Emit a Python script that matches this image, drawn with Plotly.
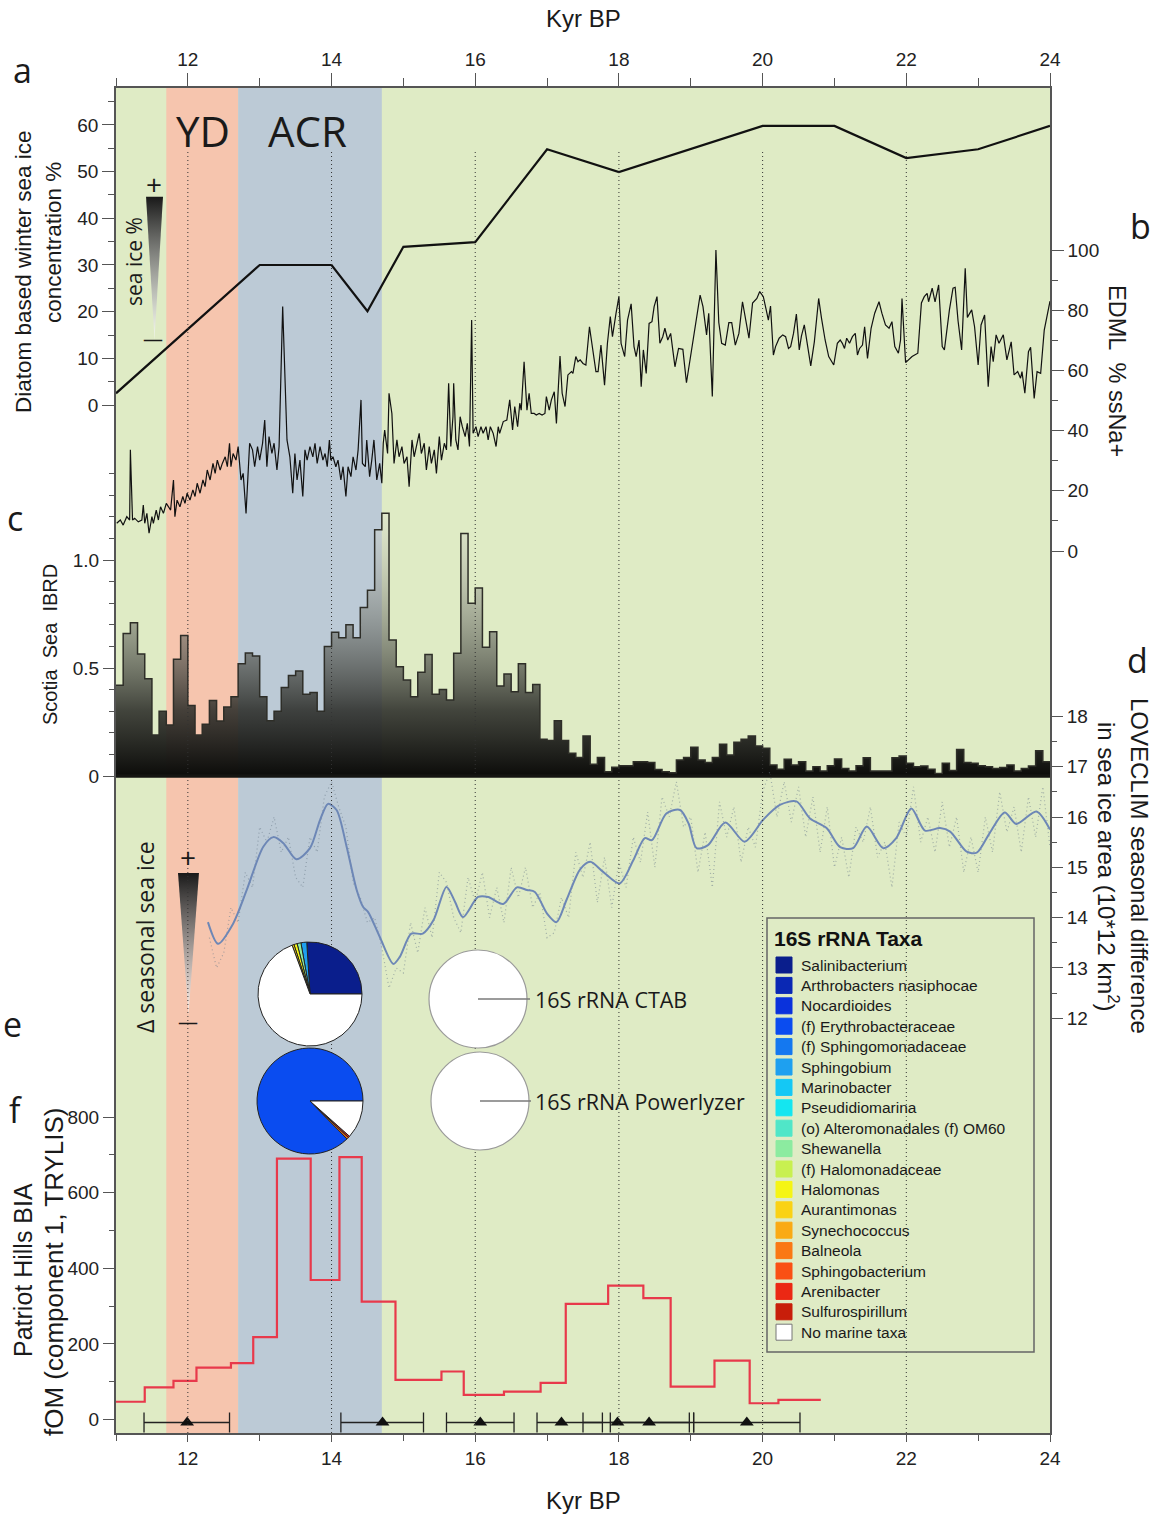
import plotly.graph_objects as go

# ---------------- DATA ----------------
x_major = [12, 14, 16, 18, 20, 22, 24]
x_minor = [11, 13, 15, 17, 19, 21, 23]
yd_band = [11.7, 12.7]
acr_band = [12.7, 14.7]
dotted_kyr = [12, 14, 16, 18, 20, 22]

# (a) diatom based winter sea ice concentration %
diatom_kyr = [11.0, 13.0, 14.0, 14.5, 15.0, 16.0, 17.0, 18.0, 20.0, 21.0, 22.0, 23.0, 24.0]
diatom_ice = [2.5, 30, 30, 20.1, 33.9, 34.9, 54.8, 49.9, 59.8, 59.8, 52.9, 54.8, 59.8]

# (b) EDML % ssNa+
edml = [
    (11.01, 9.2), (11.06, 10.3), (11.10, 8.6), (11.15, 11.4), (11.19, 10.3), (11.20, 33.6), (11.23, 10.3),
    (11.26, 10.9), (11.31, 9.7), (11.36, 10.3), (11.38, 15.3), (11.40, 9.2), (11.43, 12.5), (11.46, 5.9),
    (11.50, 11.4), (11.52, 9.2), (11.56, 13.6), (11.59, 10.3), (11.62, 14.7), (11.66, 12.5), (11.70, 15.8),
    (11.73, 14.7), (11.76, 13.6), (11.80, 23.6), (11.82, 11.4), (11.85, 16.9), (11.89, 14.7), (11.93, 18.1),
    (11.96, 15.8), (11.99, 19.2), (12.03, 16.9), (12.07, 20.3), (12.10, 18.1), (12.13, 22.5), (12.17, 19.2),
    (12.21, 23.6), (12.24, 21.4), (12.27, 26.9), (12.31, 23.6), (12.35, 29.1), (12.38, 25.8), (12.41, 30.2),
    (12.45, 26.9), (12.48, 29.1), (12.52, 31.3), (12.55, 28.0), (12.58, 35.8), (12.60, 28.0), (12.63, 32.4),
    (12.67, 30.2), (12.70, 34.7), (12.74, 23.6), (12.77, 25.8), (12.81, 12.5), (12.84, 29.1), (12.86, 35.8),
    (12.90, 33.6), (12.93, 28.0), (12.97, 34.7), (13.00, 30.2), (13.04, 35.8), (13.07, 43.5), (13.10, 28.0),
    (13.13, 38.0), (13.17, 32.4), (13.20, 35.8), (13.24, 26.9), (13.27, 34.7), (13.32, 81.2), (13.35, 54.6),
    (13.38, 36.9), (13.42, 31.3), (13.46, 19.2), (13.49, 32.4), (13.52, 23.6), (13.56, 30.2), (13.60, 18.1),
    (13.63, 33.6), (13.66, 30.2), (13.70, 34.7), (13.74, 31.3), (13.77, 35.8), (13.80, 29.1), (13.84, 34.7),
    (13.88, 30.2), (13.91, 32.4), (13.94, 28.0), (13.97, 36.9), (13.99, 30.2), (14.02, 31.3), (14.06, 28.0),
    (14.09, 30.2), (14.13, 23.6), (14.16, 28.0), (14.20, 18.1), (14.23, 28.0), (14.27, 24.7), (14.30, 31.3),
    (14.34, 26.9), (14.37, 33.6), (14.41, 50.2), (14.43, 29.1), (14.47, 28.0), (14.49, 36.9), (14.53, 24.7),
    (14.56, 30.2), (14.59, 36.9), (14.63, 23.6), (14.67, 29.1), (14.70, 22.5), (14.72, 35.8), (14.74, 40.2),
    (14.78, 32.4), (14.80, 52.4), (14.84, 45.7), (14.87, 29.1), (14.91, 36.9), (14.94, 31.3), (14.98, 34.7),
    (15.01, 29.1), (15.05, 31.3), (15.08, 21.4), (15.12, 36.9), (15.15, 31.3), (15.18, 34.7), (15.22, 39.1),
    (15.25, 32.4), (15.29, 35.8), (15.32, 26.9), (15.36, 34.7), (15.39, 29.1), (15.43, 33.6), (15.46, 25.8),
    (15.50, 38.0), (15.53, 30.2), (15.57, 35.8), (15.60, 33.6), (15.63, 55.7), (15.66, 34.7), (15.69, 44.6),
    (15.70, 55.7), (15.73, 36.9), (15.76, 33.6), (15.79, 44.6), (15.82, 41.3), (15.86, 38.0), (15.89, 42.4),
    (15.92, 34.7), (15.95, 76.7), (15.97, 39.1), (16.01, 41.3), (16.04, 38.0), (16.08, 41.3), (16.11, 39.1),
    (16.15, 41.3), (16.18, 36.9), (16.21, 41.3), (16.25, 39.1), (16.29, 34.7), (16.32, 41.3),
    (16.34, 39.1), (16.39, 43.0), (16.44, 43.5), (16.48, 50.2), (16.52, 40.2), (16.55, 48.0), (16.59, 41.3),
    (16.62, 49.1), (16.64, 46.8), (16.68, 62.9), (16.72, 46.8), (16.75, 52.4), (16.78, 45.7), (16.82, 45.7),
    (16.85, 45.2), (16.89, 45.7), (16.93, 45.2), (16.97, 45.7), (16.99, 51.3), (17.03, 46.8), (17.06, 50.2),
    (17.10, 52.9), (17.13, 42.4), (17.18, 64.8), (17.21, 52.4), (17.25, 48.0), (17.29, 58.5), (17.34, 59.6),
    (17.36, 59.0), (17.40, 64.6), (17.43, 62.9), (17.46, 63.5), (17.50, 62.3), (17.54, 61.8), (17.59, 74.5),
    (17.63, 67.9), (17.68, 59.6), (17.71, 59.6), (17.75, 68.4), (17.80, 55.1), (17.84, 69.0), (17.88, 77.9),
    (17.91, 71.2), (17.96, 79.0), (18.00, 84.5), (18.03, 69.0), (18.08, 64.6), (18.12, 76.7), (18.17, 82.1),
    (18.21, 67.9), (18.24, 64.6), (18.28, 70.1), (18.31, 54.6), (18.34, 66.8), (18.38, 59.0), (18.42, 75.6),
    (18.46, 76.2), (18.49, 81.2), (18.53, 84.5), (18.57, 69.0), (18.61, 71.2), (18.64, 74.0), (18.68, 70.1),
    (18.72, 72.3), (18.75, 66.8), (18.78, 61.2), (18.83, 67.3), (18.89, 67.0), (18.94, 55.9), (19.03, 70.1),
    (19.13, 85.0), (19.17, 81.2), (19.22, 71.8), (19.25, 79.0), (19.30, 51.3), (19.35, 100.0), (19.39, 75.9),
    (19.43, 69.0), (19.48, 68.4), (19.53, 75.9), (19.57, 75.9), (19.62, 68.4), (19.67, 72.3), (19.72, 82.8),
    (19.77, 76.7), (19.81, 70.7), (19.86, 82.4), (19.92, 83.9), (19.96, 86.2), (20.01, 84.5), (20.05, 80.1),
    (20.08, 76.7), (20.11, 81.4), (20.15, 65.1), (20.18, 67.9), (20.23, 70.7), (20.28, 71.8), (20.32, 71.2),
    (20.36, 67.3), (20.39, 67.9), (20.43, 72.3), (20.47, 78.7), (20.51, 66.8), (20.54, 71.4), (20.58, 75.1),
    (20.62, 69.0), (20.67, 61.5), (20.72, 69.5), (20.78, 83.9), (20.82, 77.3), (20.87, 70.1), (20.92, 64.6),
    (20.97, 62.3), (20.99, 61.8), (21.04, 69.0), (21.08, 70.1), (21.11, 69.0), (21.14, 67.3), (21.17, 70.7),
    (21.21, 69.0), (21.25, 71.2), (21.29, 72.3), (21.32, 65.1), (21.35, 67.3), (21.39, 68.4), (21.42, 74.5),
    (21.46, 64.0), (21.51, 74.0), (21.56, 79.0), (21.62, 82.8), (21.66, 79.0), (21.71, 75.1), (21.76, 74.0),
    (21.80, 76.2), (21.84, 67.9), (21.89, 65.7), (21.92, 70.1), (21.94, 83.9), (21.99, 62.6), (22.03, 63.5),
    (22.08, 64.6), (22.16, 65.7), (22.21, 82.4), (22.25, 84.5), (22.29, 85.6), (22.31, 82.8), (22.36, 87.3),
    (22.40, 82.8), (22.45, 88.4), (22.50, 67.9), (22.53, 66.8), (22.60, 80.1), (22.65, 87.3), (22.68, 87.6),
    (22.72, 76.5), (22.77, 66.8), (22.82, 93.9), (22.85, 77.6), (22.91, 80.1), (22.95, 74.5), (23.00, 61.8),
    (23.04, 75.1), (23.09, 78.4), (23.14, 54.6), (23.18, 67.9), (23.21, 62.9), (23.25, 71.8), (23.29, 69.0),
    (23.35, 71.8), (23.40, 63.5), (23.46, 69.5), (23.50, 58.5), (23.55, 59.6), (23.59, 57.4), (23.61, 59.6),
    (23.65, 52.4), (23.70, 66.2), (23.73, 67.7), (23.78, 50.7), (23.82, 59.6), (23.87, 59.0), (23.92, 73.4),
    (23.97, 80.1), (24.00, 83.0),
]
edml_kyr = [p[0] for p in edml]
edml_ssna = [p[1] for p in edml]

# (c) Scotia Sea IBRD, 0.1 kyr bins starting at 11.0
ibrd_bin_start = [round(11.0 + 0.1 * i, 1) for i in range(130)]
ibrd = [
    0.42, 0.66, 0.71, 0.565, 0.45, 0.19, 0.30, 0.236, 0.54, 0.65,
    0.326, 0.19, 0.24, 0.35, 0.255, 0.32, 0.367, 0.52, 0.57, 0.556,
    0.367, 0.256, 0.30, 0.41, 0.465, 0.486, 0.378, 0.386, 0.30, 0.60,
    0.665, 0.64, 0.70, 0.64, 0.78, 0.86, 1.14, 1.216, 0.63, 0.506,
    0.444, 0.367, 0.48, 0.563, 0.378, 0.40, 0.352, 0.568, 1.123, 0.80,
    0.87, 0.596, 0.668, 0.417, 0.472, 0.39, 0.52, 0.387, 0.424, 0.17,
    0.164, 0.256, 0.164, 0.105, 0.086, 0.185, 0.054, 0.086, 0.02, 0.04,
    0.048, 0.048, 0.066, 0.066, 0.063, 0.03, 0.02, 0.015, 0.074, 0.086,
    0.133, 0.074, 0.063, 0.086, 0.147, 0.097, 0.156, 0.17, 0.185, 0.139,
    0.128, 0.051, 0.031, 0.077, 0.051, 0.066, 0.023, 0.043, 0.023, 0.048,
    0.079, 0.035, 0.023, 0.048, 0.085, 0.023, 0.023, 0.023, 0.085, 0.093,
    0.059, 0.043, 0.046, 0.031, 0.012, 0.059, 0.025, 0.123, 0.063, 0.059,
    0.048, 0.043, 0.035, 0.039, 0.051, 0.023, 0.035, 0.046, 0.117, 0.066,
]

# (d) LOVECLIM seasonal difference in sea ice area (smoothed)
love_kyr = [12.28, 12.42, 12.63, 12.82, 13.05, 13.19, 13.33, 13.51, 13.70, 13.84, 13.95, 14.07, 14.21,
            14.35, 14.44, 14.51, 14.67, 14.86, 14.95, 15.11, 15.27, 15.42, 15.60, 15.72, 15.83, 16.04,
            16.18, 16.39, 16.58, 16.72, 16.83, 17.00, 17.13, 17.27, 17.46, 17.60, 17.78, 18.01, 18.20,
            18.36, 18.46, 18.66, 18.85, 18.97, 19.08, 19.24, 19.48, 19.75, 20.01, 20.24, 20.47, 20.66,
            20.89, 21.08, 21.26, 21.45, 21.68, 21.86, 22.07, 22.26, 22.47, 22.61, 22.84, 22.98, 23.16,
            23.37, 23.53, 23.81, 24.00]
love_smooth = [13.91, 13.48, 13.88, 14.55, 15.41, 15.60, 15.48, 15.16, 15.38, 15.94, 16.26, 16.14, 15.41,
               14.55, 14.21, 14.11, 13.62, 13.08, 13.22, 13.68, 13.68, 13.95, 14.61, 14.31, 14.01, 14.41,
               14.41, 14.27, 14.60, 14.55, 14.51, 14.08, 13.91, 14.35, 14.96, 15.11, 14.91, 14.68, 15.14,
               15.58, 15.54, 16.07, 16.14, 15.87, 15.38, 15.44, 15.89, 15.51, 15.95, 16.24, 16.31, 15.97,
               15.78, 15.40, 15.38, 15.81, 15.38, 15.58, 16.17, 15.73, 15.78, 15.71, 15.31, 15.29, 15.68,
               16.09, 15.86, 16.11, 15.75]
# (d) LOVECLIM unsmoothed (faint dotted series, read approximately)
love_raw = [
    (12.30, 13.6), (12.40, 13.0), (12.50, 13.3), (12.60, 14.2), (12.70, 13.9), (12.80, 14.9), (12.90, 14.6),
    (13.00, 15.8), (13.10, 15.5), (13.20, 16.0), (13.30, 15.3), (13.40, 15.6), (13.50, 14.8), (13.60, 14.6),
    (13.70, 15.6), (13.80, 15.3), (13.90, 16.4), (14.00, 16.7), (14.10, 16.2), (14.20, 15.8), (14.30, 14.7),
    (14.40, 14.4), (14.50, 13.9), (14.60, 14.0), (14.70, 13.4), (14.80, 12.6), (14.90, 13.0), (15.00, 12.9),
    (15.10, 13.9), (15.20, 13.3), (15.30, 14.2), (15.40, 13.6), (15.50, 14.9), (15.60, 14.7), (15.70, 14.0),
    (15.80, 13.7), (15.90, 14.8), (16.00, 14.3), (16.10, 14.9), (16.20, 14.0), (16.30, 14.6), (16.40, 13.9),
    (16.50, 15.0), (16.60, 14.4), (16.70, 15.0), (16.80, 14.2), (16.90, 14.5), (17.00, 13.6), (17.10, 13.7),
    (17.20, 14.4), (17.30, 14.0), (17.40, 15.3), (17.50, 14.8), (17.60, 15.5), (17.70, 14.3), (17.80, 15.2),
    (17.90, 14.2), (18.00, 15.1), (18.10, 14.6), (18.20, 15.6), (18.30, 15.1), (18.40, 16.1), (18.50, 15.0),
    (18.60, 16.4), (18.70, 16.0), (18.80, 16.7), (18.90, 15.8), (19.00, 16.0), (19.10, 14.9), (19.20, 15.7),
    (19.30, 14.6), (19.40, 16.3), (19.50, 15.6), (19.60, 16.2), (19.70, 15.1), (19.80, 15.8), (19.90, 15.4),
    (20.00, 16.5), (20.10, 16.9), (20.20, 16.0), (20.30, 16.7), (20.40, 15.9), (20.50, 16.6), (20.60, 15.6),
    (20.70, 16.4), (20.80, 15.3), (20.90, 16.2), (21.00, 15.0), (21.10, 15.6), (21.20, 14.8), (21.30, 15.8),
    (21.40, 15.5), (21.50, 16.2), (21.60, 15.2), (21.70, 15.5), (21.80, 14.6), (21.90, 15.9), (22.00, 15.6),
    (22.10, 16.6), (22.20, 15.5), (22.30, 16.0), (22.40, 15.3), (22.50, 16.3), (22.60, 15.4), (22.70, 16.0),
    (22.80, 14.9), (22.90, 15.6), (23.00, 14.9), (23.10, 16.0), (23.20, 15.3), (23.30, 16.5), (23.40, 15.7),
    (23.50, 16.2), (23.60, 15.3), (23.70, 16.4), (23.80, 15.6), (23.90, 16.6), (24.00, 15.4),
]
love_raw_kyr = [p[0] for p in love_raw]
love_raw_val = [p[1] for p in love_raw]

# (f) Patriot Hills BIA fOM (component 1, TRYLIS), step edges + values
fom_edges = [11.0, 11.40, 11.80, 12.12, 12.60, 12.91, 13.24, 13.71, 14.11, 14.42, 14.89, 15.53, 15.84,
             16.40, 16.91, 17.26, 17.85, 18.34, 18.72, 19.33, 19.82, 20.22, 20.81]
fom_values = [47, 85, 102, 137, 149, 218, 690, 369, 694, 312, 105, 127, 65, 74, 97, 306, 354, 321, 87,
              156, 43, 52]

# age control (kyr) with uncertainty
age_kyr = [11.99, 14.71, 16.07, 17.20, 17.98, 18.42, 19.78]
age_lo = [11.39, 14.13, 15.60, 16.86, 17.50, 17.88, 19.04]
age_hi = [12.58, 15.28, 16.54, 17.77, 18.98, 19.04, 20.52]
age_row = -8

# (e) 16S rRNA taxa
taxa = ["Salinibacterium", "Arthrobacters nasiphocae", "Nocardioides", "(f) Erythrobacteraceae",
        "(f) Sphingomonadaceae", "Sphingobium", "Marinobacter", "Pseudidiomarina",
        "(o) Alteromonadales (f) OM60", "Shewanella", "(f) Halomonadaceae", "Halomonas", "Aurantimonas",
        "Synechococcus", "Balneola", "Sphingobacterium", "Arenibacter", "Sulfurospirillum", "No marine taxa"]
taxa_colors = ["#0a1e8c", "#0a28b4", "#0a32dc", "#0a4cf0", "#1478f0", "#1ea0f0", "#14c8f5", "#14e6f0",
               "#50e6c8", "#8ceba0", "#c8f050", "#f5f514", "#fad214", "#faaa14", "#fa7814", "#fa5014",
               "#eb2814", "#c81e0a", "#ffffff"]
tcol = dict(zip(taxa, taxa_colors))

pie_a_labels = ["Salinibacterium", "Sphingobium", "Shewanella", "Halomonas", "Aurantimonas", "No marine taxa"]
pie_a_values = [26.0, 1.8, 1.2, 1.0, 0.6, 69.4]
pie_b_labels = ["(f) Erythrobacteraceae", "Balneola", "Arenibacter", "No marine taxa"]
pie_b_values = [87.3, 0.6, 0.5, 11.6]

# ---------------- GEOMETRY / STYLE ----------------
W, H = 1158, 1517
L, R, T, B = 116, 1050, 88, 1433


def PX(x):
    return (x - L) / (R - L)


def PY(y):
    return (B - y) / (B - T)


def yrange(v_ref, p_ref, ppu):
    return [v_ref + (p_ref - B) / ppu, v_ref + (p_ref - T) / ppu]


HELV = "Liberation Sans, Arial, sans-serif"
MYR = "Open Sans, sans-serif"
TXT = "#1a1a1a"
AX = "#555555"
GREEN = "#dfebc5"

fig = go.Figure()

# gradient triangle (sea ice %)
fig.add_trace(go.Scatter(x=[11.418, 11.654, 11.536, 11.418], y=[44.6, 44.6, 14.0, 44.6], mode="lines",
                         fill="toself", line=dict(width=0, color="rgba(0,0,0,0)"),
                         fillgradient=dict(type="vertical", colorscale=[[0, "rgba(255,255,255,0.7)"],
                                                                        [1, "rgba(25,25,25,1)"]]),
                         xaxis="x", yaxis="y", hoverinfo="skip", showlegend=False))
# (a)
fig.add_trace(go.Scatter(x=diatom_kyr, y=diatom_ice, mode="lines", line=dict(color="#111", width=2.2),
                         xaxis="x", yaxis="y", hoverinfo="skip", showlegend=False))
# top x axis carrier
fig.add_trace(go.Scatter(x=[11, 24], y=[-500, -500], mode="lines", line=dict(width=0), xaxis="x2", yaxis="y",
                         showlegend=False, hoverinfo="skip"))
# (b)
fig.add_trace(go.Scatter(x=edml_kyr, y=edml_ssna, mode="lines", line=dict(color="#111", width=1.2),
                         xaxis="x", yaxis="y2", hoverinfo="skip", showlegend=False))
# (c)
ibrd_x = ibrd_bin_start + [24.0]
ibrd_y = ibrd + [ibrd[-1]]
fig.add_trace(go.Scatter(x=ibrd_x, y=ibrd_y, mode="lines", line=dict(color="#2e2e28", width=1.5, shape="hv"),
                         fill="tozeroy",
                         fillgradient=dict(type="vertical", start=0, stop=1.22,
                                           colorscale=[[0, "rgba(12,12,10,1)"], [0.25, "rgba(45,46,42,0.88)"],
                                                       [0.5, "rgba(95,97,90,0.65)"],
                                                       [1, "rgba(225,228,215,0.35)"]]),
                         xaxis="x", yaxis="y3", hoverinfo="skip", showlegend=False))
# (d)
fig.add_trace(go.Scatter(x=[11.863, 12.155, 12.009, 11.863], y=[14.887, 14.887, 12.064, 14.887], mode="lines",
                         fill="toself", line=dict(width=0, color="rgba(0,0,0,0)"),
                         fillgradient=dict(type="vertical", colorscale=[[0, "rgba(255,255,255,0.7)"],
                                                                        [1, "rgba(25,25,25,1)"]]),
                         xaxis="x", yaxis="y4", hoverinfo="skip", showlegend=False))
fig.add_trace(go.Scatter(x=love_raw_kyr, y=love_raw_val, mode="lines",
                         line=dict(color="rgba(110,125,140,0.55)", width=1.2, dash="1px,3px"),
                         xaxis="x", yaxis="y4", hoverinfo="skip", showlegend=False))
fig.add_trace(go.Scatter(x=love_kyr, y=love_smooth, mode="lines",
                         line=dict(color="#6d87b6", width=2, shape="spline", smoothing=0.8),
                         xaxis="x", yaxis="y4", hoverinfo="skip", showlegend=False))
# (f)
fig.add_trace(go.Scatter(x=fom_edges, y=fom_values + [fom_values[-1]], mode="lines",
                         line=dict(color="#e8394b", width=2.2, shape="hv"),
                         xaxis="x", yaxis="y5", hoverinfo="skip", showlegend=False))
fig.add_trace(go.Scatter(x=age_kyr, y=[age_row] * len(age_kyr), mode="markers",
                         marker=dict(symbol="triangle-up", size=12, color="#111"),
                         error_x=dict(type="data", symmetric=False,
                                      array=[h - a for h, a in zip(age_hi, age_kyr)],
                                      arrayminus=[a - l for a, l in zip(age_kyr, age_lo)],
                                      width=10, thickness=1.3, color="#222"),
                         xaxis="x", yaxis="y5", hoverinfo="skip", showlegend=False))
# dotted guide lines
gx, gy = [], []
for k in dotted_kyr:
    gx += [k, k, None]
    gy += [0, PY(150), None]
fig.add_trace(go.Scatter(x=gx, y=gy, mode="lines", line=dict(color="#333", width=1, dash="1px,3px"),
                         xaxis="x", yaxis="y6", hoverinfo="skip", showlegend=False))


# pies (e): first slice starts at 3 o'clock, slices run counterclockwise
def pie_dom(cx, cy, r):
    return dict(x=[PX(cx - r), PX(cx + r)], y=[PY(cy + r), PY(cy - r)])


def pie_rot(vals):
    return 90 - 360.0 * vals[0] / sum(vals)


fig.add_trace(go.Pie(labels=pie_a_labels, values=pie_a_values, sort=False, direction="counterclockwise",
                     rotation=pie_rot(pie_a_values), textinfo="none", hoverinfo="skip", showlegend=False,
                     marker=dict(colors=[tcol[l] for l in pie_a_labels], line=dict(color="#222", width=1)),
                     domain=pie_dom(310, 994, 52)))
fig.add_trace(go.Pie(labels=pie_b_labels, values=pie_b_values, sort=False, direction="counterclockwise",
                     rotation=pie_rot(pie_b_values), textinfo="none", hoverinfo="skip", showlegend=False,
                     marker=dict(colors=[tcol[l] for l in pie_b_labels], line=dict(color="#222", width=1)),
                     domain=pie_dom(310, 1101, 53)))
for cy, cx in [(999, 478), (1101, 480)]:
    fig.add_trace(go.Pie(labels=["No marine taxa"], values=[100], sort=False, textinfo="none",
                         hoverinfo="skip", showlegend=False,
                         marker=dict(colors=["#ffffff"], line=dict(color="#9a9a9a", width=1.2)),
                         domain=pie_dom(cx, cy, 49)))

# ---------------- AXES ----------------
tickfont = dict(family=HELV, size=19, color="#222")


def yax(rng, vals, text=None, minor=None, side="left", overlay=True, showline=False, ticklen=12):
    d = dict(range=rng, tickmode="array", tickvals=vals, ticks="outside", ticklen=ticklen, tickwidth=1.2,
             tickcolor=AX, showgrid=False, zeroline=False, showline=showline, linecolor=AX, linewidth=1.5,
             tickfont=tickfont, side=side, fixedrange=True, anchor="x")
    if text is not None:
        d["ticktext"] = text
    if minor is not None:
        d["minor"] = dict(tickmode="array", tickvals=minor, ticks="outside", ticklen=6, tickwidth=1.2,
                          tickcolor=AX, showgrid=False)
    if overlay:
        d["overlaying"] = "y"
    else:
        d["domain"] = [0, 1]
    return d


xcommon = dict(range=[11, 24], tickmode="array", tickvals=x_major, ticks="outside", tickwidth=1.2,
               tickcolor=AX, showgrid=False, zeroline=False, showline=True, linecolor=AX, linewidth=1.5,
               tickfont=tickfont, fixedrange=True)

fig.update_layout(
    width=W, height=H, autosize=False,
    margin=dict(l=L, r=W - R, t=T, b=H - B, pad=0),
    paper_bgcolor="white", plot_bgcolor=GREEN, showlegend=False, hovermode=False,
    xaxis=dict(**xcommon, domain=[0, 1], anchor="y", ticklen=7,
               minor=dict(tickmode="array", tickvals=x_minor, ticks="outside", ticklen=6, tickwidth=1.2,
                          tickcolor=AX)),
    xaxis2=dict(**xcommon, overlaying="x", side="top", anchor="y", ticklen=13,
                minor=dict(tickmode="array", tickvals=x_minor, ticks="outside", ticklen=8, tickwidth=1.2,
                           tickcolor=AX)),
    yaxis=yax(yrange(0, 405, 4.667), [0, 10, 20, 30, 40, 50, 60], minor=[5, 15, 25, 35, 45, 55, 65],
              overlay=False, showline=True),
    yaxis2=yax(yrange(0, 551, 3.01), [0, 20, 40, 60, 80, 100], minor=[10, 30, 50, 70, 90], side="right",
               showline=True),
    yaxis3=yax(yrange(0, 776, 216), [0, 0.5, 1.0], text=["0", "0.5", "1.0"],
               minor=[0.1, 0.2, 0.3, 0.4, 0.6, 0.7, 0.8, 0.9, 1.1, 1.2, 1.3, 1.4]),
    yaxis4=yax(yrange(16, 817, 50.3), [12, 13, 14, 15, 16, 17, 18],
               minor=[12.5, 13.5, 14.5, 15.5, 16.5, 17.5], side="right"),
    yaxis5=yax(yrange(0, 1419.5, 0.378), [0, 200, 400, 600, 800], minor=[100, 300, 500, 700]),
    yaxis6=dict(range=[0, 1], overlaying="y", visible=False, fixedrange=True, anchor="x"),
)

# ---------------- SHAPES ----------------
shapes = [
    dict(type="rect", xref="x", yref="paper", x0=yd_band[0], x1=yd_band[1], y0=0, y1=1,
         fillcolor="#f6c5ae", line=dict(width=0), layer="below"),
    dict(type="rect", xref="x", yref="paper", x0=acr_band[0], x1=acr_band[1], y0=0, y1=1,
         fillcolor="#bccad6", line=dict(width=0), layer="below"),
    dict(type="line", xref="x", yref="y3", x0=11, x1=24, y0=0, y1=0, line=dict(color="#151512", width=3.5)),
    # legend box
    dict(type="rect", xref="paper", yref="paper", x0=PX(767), x1=PX(1034), y0=PY(1352), y1=PY(918),
         line=dict(color="#666", width=1.5), fillcolor="rgba(0,0,0,0)", layer="above"),
    # pie label lines
    dict(type="line", xref="paper", yref="paper", x0=PX(478), x1=PX(530), y0=PY(999), y1=PY(999),
         line=dict(color="#7a7a7a", width=1.3)),
    dict(type="line", xref="paper", yref="paper", x0=PX(480), x1=PX(531), y0=PY(1101), y1=PY(1101),
         line=dict(color="#7a7a7a", width=1.3)),
]
ann = []
for i, (name, col) in enumerate(zip(taxa, taxa_colors)):
    yc = 965 + i * 20.4
    shapes.append(dict(type="rect", xref="paper", yref="paper", x0=PX(776), x1=PX(792), y0=PY(yc + 8),
                       y1=PY(yc - 8), fillcolor=col,
                       line=dict(color="#777" if col == "#ffffff" else col, width=1)))
    ann.append(dict(text=name, x=PX(799), y=PY(yc), xref="paper", yref="paper", xanchor="left",
                    yanchor="middle", showarrow=False, font=dict(family=HELV, size=15.5, color=TXT)))
ann.append(dict(text="<b>16S rRNA Taxa</b>", x=PX(772), y=PY(938), xref="paper", yref="paper",
                xanchor="left", yanchor="middle", showarrow=False, font=dict(family=HELV, size=21, color="#111")))


def txt(s, x, y, size, family=HELV, angle=0, xanchor="center"):
    ann.append(dict(text=s, x=PX(x), y=PY(y), xref="paper", yref="paper", xanchor=xanchor, yanchor="middle",
                    showarrow=False, textangle=angle, font=dict(family=family, size=size, color=TXT)))


txt("Kyr BP", 583, 18, 24)
txt("Kyr BP", 583, 1500, 24)
for s, x, y in [("a", 22, 70), ("b", 1140, 226), ("c", 15, 518), ("d", 1137, 660), ("e", 12, 1024),
                ("f", 15, 1110)]:
    txt(s, x, y, 34, family=MYR)
txt("YD", 203, 131, 42, family=MYR)
txt("ACR", 307, 131, 42, family=MYR)
txt("Diatom based winter sea ice", 23, 272, 22.5, angle=-90)
txt("concentration %", 53, 243, 22.5, angle=-90)
txt("EDML  % ssNa+", 1117, 371, 23.5, angle=90)
txt("Scotia  Sea  IBRD", 50, 645, 20, angle=-90)
txt("LOVECLIM seasonal difference", 1140, 866, 24, angle=90)
txt("in sea ice area (10*12 km<sup>2</sup>)", 1108, 867, 24, angle=90)
txt("Patriot Hills BIA", 23, 1270, 25, angle=-90)
txt("fOM (component 1, TRYLIS)", 54, 1272, 26, angle=-90)
txt("sea ice %", 134, 262, 21, family=MYR, angle=-90)
txt("+", 154, 184, 28, family=MYR)
txt("—", 153, 339, 20, family=MYR)
txt("Δ seasonal sea ice", 145, 937, 23, family=MYR, angle=-90)
txt("+", 188, 857, 28, family=MYR)
txt("—", 188, 1021, 20, family=MYR)
txt("16S rRNA CTAB", 533, 999, 21.5, family=MYR, xanchor="left")
txt("16S rRNA Powerlyzer", 533, 1101, 21.5, family=MYR, xanchor="left")

fig.update_layout(shapes=shapes, annotations=ann)
fig.write_html("out.html", config={"displayModeBar": False},
               post_script="document.body.style.margin='0px';document.body.style.padding='0px';")
